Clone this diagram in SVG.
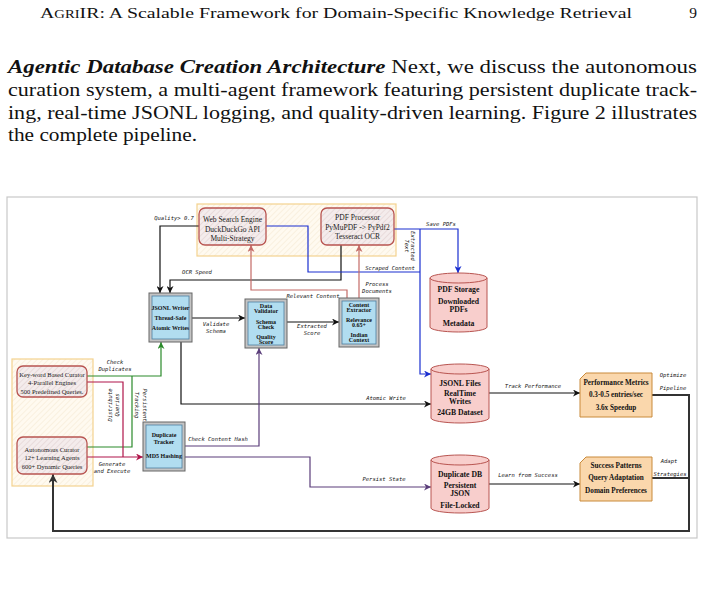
<svg xmlns="http://www.w3.org/2000/svg" width="705" height="590" viewBox="0 0 705 590">
<style>
.pg{font-family:"Liberation Serif","DejaVu Serif",serif;fill:#111}
.hb{font-family:"Liberation Serif",serif;font-size:7.5px;fill:#222;text-anchor:middle}
.cb{font-family:"Liberation Serif",serif;font-size:6.5px;fill:#222;text-anchor:middle}
.bb{font-family:"Liberation Serif",serif;font-size:6px;font-weight:bold;fill:#111;text-anchor:middle}
.cy{font-family:"Liberation Serif",serif;font-size:7.7px;font-weight:bold;fill:#111;text-anchor:middle}
.or{font-family:"Liberation Serif",serif;font-size:7.2px;font-weight:bold;fill:#111;text-anchor:middle}
.lb{font-family:"DejaVu Sans Mono",monospace;font-size:5.5px;font-style:italic;fill:#111;text-anchor:middle}
.ln{fill:none;stroke-width:1.2}
.k{stroke:#111}.bl{stroke:#1a2fd0}.rd{stroke:#c46a66}.gr{stroke:#2a8a2a}.cr{stroke:#b0154a}.pu{stroke:#5a3d7a}
.hx{stroke:#b85450;stroke-width:1.3;fill:url(#hatchR)}
.ct{stroke:#f3d28f;stroke-width:1.2;fill:url(#hatchY)}
.bo{fill:#c4c4c4;stroke:#666;stroke-width:1}
.bi{fill:#b1ddf0;stroke:#4f7fa0;stroke-width:0.8}
.cyl{fill:#f8cecc;stroke:#b85450;stroke-width:1}
.crd{fill:#fad7ac;stroke:#c98a3a;stroke-width:1}
</style>
<defs>
<pattern id="hatchR" patternUnits="userSpaceOnUse" width="4" height="4" patternTransform="rotate(45)">
<rect width="4" height="4" fill="#f4ecec"/><line x1="0" y1="0" x2="0" y2="4" stroke="#dccaca" stroke-width="1"/>
</pattern>
<pattern id="hatchY" patternUnits="userSpaceOnUse" width="4" height="4" patternTransform="rotate(45)">
<rect width="4" height="4" fill="#fffaf0"/><line x1="0" y1="0" x2="0" y2="4" stroke="#f3e6cf" stroke-width="1"/>
</pattern>
<marker id="aK" viewBox="0 0 10 10" refX="10" refY="5" markerWidth="7" markerHeight="7" orient="auto" markerUnits="userSpaceOnUse"><path d="M0,0 L10,5 L0,10 L3,5 Z" fill="#111"/></marker>
<marker id="aB" viewBox="0 0 10 10" refX="10" refY="5" markerWidth="7" markerHeight="7" orient="auto" markerUnits="userSpaceOnUse"><path d="M0,0 L10,5 L0,10 L3,5 Z" fill="#1a2fd0"/></marker>
<marker id="aR" viewBox="0 0 10 10" refX="10" refY="5" markerWidth="7" markerHeight="7" orient="auto" markerUnits="userSpaceOnUse"><path d="M0,0 L10,5 L0,10 L3,5 Z" fill="#c46a66"/></marker>
<marker id="aG" viewBox="0 0 10 10" refX="10" refY="5" markerWidth="7" markerHeight="7" orient="auto" markerUnits="userSpaceOnUse"><path d="M0,0 L10,5 L0,10 L3,5 Z" fill="#2a8a2a"/></marker>
<marker id="aC" viewBox="0 0 10 10" refX="10" refY="5" markerWidth="7" markerHeight="7" orient="auto" markerUnits="userSpaceOnUse"><path d="M0,0 L10,5 L0,10 L3,5 Z" fill="#b0154a"/></marker>
<marker id="aP" viewBox="0 0 10 10" refX="10" refY="5" markerWidth="7" markerHeight="7" orient="auto" markerUnits="userSpaceOnUse"><path d="M0,0 L10,5 L0,10 L3,5 Z" fill="#5a3d7a"/></marker>
<marker id="aD" viewBox="0 0 10 10" refX="10" refY="5" markerWidth="9" markerHeight="9" orient="auto" markerUnits="userSpaceOnUse"><path d="M0,0 L10,5 L0,10 L3,5 Z" fill="#333"/></marker>
</defs>
<rect width="705" height="590" fill="#fff"/>

<g id="page-text">
<text class="pg" x="40" y="18" font-size="15.5" textLength="592" lengthAdjust="spacingAndGlyphs">A<tspan font-size="11.5">GRI</tspan>IR: A Scalable Framework for Domain-Specific Knowledge Retrieval</text>
<text class="pg" x="697" y="18" font-size="15.5" text-anchor="end">9</text>
<text class="pg" x="8" y="73" font-size="18.5" textLength="689" lengthAdjust="spacingAndGlyphs"><tspan font-weight="bold" font-style="italic">Agentic Database Creation Architecture</tspan> Next, we discuss the autonomous</text>
<text class="pg" x="8" y="96" font-size="18.5" textLength="689" lengthAdjust="spacingAndGlyphs">curation system, a multi-agent framework featuring persistent duplicate track-</text>
<text class="pg" x="8" y="119" font-size="18.5" textLength="689" lengthAdjust="spacingAndGlyphs">ing, real-time JSONL logging, and quality-driven learning. Figure 2 illustrates</text>
<text class="pg" x="8" y="141" font-size="18.5" textLength="189" lengthAdjust="spacingAndGlyphs">the complete pipeline.</text>
</g>

<rect id="frame" x="7" y="197" width="690" height="341" fill="#fff" stroke="#c8c8c8" stroke-width="1.2"/>

<g id="containers">
<rect class="ct" x="197" y="204" width="199" height="52"/>
<rect class="ct" x="12" y="359" width="81" height="127"/>
</g>

<g id="connectors">
<path class="ln k" d="M199,226 H160 V293" marker-end="url(#aK)"/>
<path class="ln k" d="M341,245 V280 H170 V293" marker-end="url(#aK)"/>
<path class="ln bl" d="M266,226 H308 V272 H420"/>
<path class="ln bl" d="M394,229 H458 V273" marker-end="url(#aB)"/>
<path class="ln bl" d="M420,229 V374 H431" marker-end="url(#aB)"/>
<path class="ln rd" d="M347,298 V290 H251 V245" marker-end="url(#aR)"/>
<path class="ln rd" d="M359,298 V245" marker-end="url(#aR)"/>
<path class="ln k" d="M192,318 H245" marker-end="url(#aK)"/>
<path class="ln k" d="M287,322 H339" marker-end="url(#aK)"/>
<path class="ln k" d="M181,342 V404 H431" marker-end="url(#aK)"/>
<path class="ln gr" d="M87,376 H161 V342" marker-end="url(#aG)"/>
<path class="ln gr" d="M87,447 H132 V376"/>
<path class="ln cr" d="M87,382 H123 V457"/>
<path class="ln cr" d="M87,457 H143" marker-end="url(#aC)"/>
<path class="ln pu" d="M185,446 H259 V348" marker-end="url(#aP)"/>
<path class="ln pu" d="M185,457 H310 V487 H431" marker-end="url(#aP)"/>
<path class="ln k" d="M489,393 H580" marker-end="url(#aK)"/>
<path class="ln k" d="M489,484 H580" marker-end="url(#aK)"/>
<path fill="none" stroke="#333" stroke-width="2" d="M652,395 H689 V531 H53 V474" marker-end="url(#aD)"/>
<path fill="none" stroke="#333" stroke-width="2" d="M652,478 H689"/>

<text class="lb" x="174" y="220">Quality&gt; 0.7</text>
<text class="lb" x="197" y="274">OCR Speed</text>
<text class="lb" x="390" y="270">Scraped Content</text>
<text class="lb" x="441" y="226">Save PDFs</text>
<text class="lb" transform="translate(413,246) rotate(90)" x="0" y="2">Extracted</text>
<text class="lb" transform="translate(407,246) rotate(90)" x="0" y="2">Text</text>
<text class="lb" x="313" y="298">Relevant Content</text>
<text class="lb" x="377" y="286">Process</text>
<text class="lb" x="377" y="293">Documents</text>
<text class="lb" x="216" y="326">Validate</text>
<text class="lb" x="216" y="333">Schema</text>
<text class="lb" x="312" y="328">Extracted</text>
<text class="lb" x="312" y="335">Score</text>
<text class="lb" x="386" y="400">Atomic Write</text>
<text class="lb" x="115" y="364">Check</text>
<text class="lb" x="115" y="371">Duplicates</text>
<text class="lb" transform="translate(110,405) rotate(-90)" x="0" y="2">Distribute</text>
<text class="lb" transform="translate(117,405) rotate(-90)" x="0" y="2">Queries</text>
<text class="lb" transform="translate(145,405) rotate(90)" x="0" y="2">Persistent</text>
<text class="lb" transform="translate(137,405) rotate(90)" x="0" y="2">Tracking</text>
<text class="lb" x="112" y="466">Generate</text>
<text class="lb" x="112" y="473">and Execute</text>
<text class="lb" x="218" y="441">Check Content Hash</text>
<text class="lb" x="384" y="481">Persist State</text>
<text class="lb" x="533" y="388">Track Performance</text>
<text class="lb" x="528" y="477">Learn from Success</text>
<text class="lb" x="673" y="377">Optimize</text>
<text class="lb" x="673" y="390">Pipeline</text>
<text class="lb" x="669" y="463">Adapt</text>
<text class="lb" x="670" y="476">Strategies</text>
</g>

<g id="web-search">
<rect class="hx" x="199" y="208" width="67" height="37" rx="6"/>
<text class="hb" x="232.5" y="222">Web Search Engine</text>
<text class="hb" x="232.5" y="231.5">DuckDuckGo API</text>
<text class="hb" x="232.5" y="241">Multi-Strategy</text>
</g>
<g id="pdf-processor">
<rect class="hx" x="321" y="208" width="73" height="37" rx="6"/>
<text class="hb" x="357.5" y="220">PDF Processor</text>
<text class="hb" x="357.5" y="229.5">PyMuPDF -&gt; PyPdf2</text>
<text class="hb" x="357.5" y="239">Tesseract OCR</text>
</g>
<g id="keyword-curator">
<rect class="hx" x="17" y="366" width="70" height="31" rx="6"/>
<text class="cb" x="52" y="376.5">Key-word Based Curator</text>
<text class="cb" x="52" y="385">4-Parallel Engines</text>
<text class="cb" x="52" y="393.5">500 Predefined Queries.</text>
</g>
<g id="autonomous-curator">
<rect class="hx" x="17" y="437" width="70" height="37" rx="6"/>
<text class="cb" x="52" y="451.5">Autonomous Curator</text>
<text class="cb" x="52" y="460">12+ Learning Agents</text>
<text class="cb" x="52" y="468.5">600+ Dynamic Queries</text>
</g>

<g id="jsonl-writer">
<rect class="bo" x="149" y="293" width="43" height="49"/>
<rect class="bi" x="152" y="296" width="37" height="43"/>
<text class="bb" x="170.5" y="310">JSONL Writer</text>
<text class="bb" x="170.5" y="320">Thread-Safe</text>
<text class="bb" x="170.5" y="330">Atomic Writes</text>
</g>
<g id="data-validator">
<rect class="bo" x="245" y="299" width="42" height="49"/>
<rect class="bi" x="248" y="302" width="36" height="43"/>
<text class="bb" x="266" y="308">Data</text>
<text class="bb" x="266" y="313">Validator</text>
<text class="bb" x="266" y="324">Schema</text>
<text class="bb" x="266" y="329">Check</text>
<text class="bb" x="266" y="339">Quality</text>
<text class="bb" x="266" y="344">Score</text>
</g>
<g id="content-extractor">
<rect class="bo" x="339" y="298" width="40" height="49"/>
<rect class="bi" x="342" y="301" width="34" height="43"/>
<text class="bb" x="359" y="307">Content</text>
<text class="bb" x="359" y="312">Extractor</text>
<text class="bb" x="359" y="322">Relevance</text>
<text class="bb" x="359" y="327">0.65+</text>
<text class="bb" x="359" y="337">Indian</text>
<text class="bb" x="359" y="342">Context</text>
</g>
<g id="duplicate-tracker">
<rect class="bo" x="143" y="422" width="42" height="49"/>
<rect class="bi" x="146" y="425" width="36" height="43"/>
<text class="bb" x="164" y="437">Duplicate</text>
<text class="bb" x="164" y="444">Tracker</text>
<text class="bb" x="164" y="458">MD5 Hashing</text>
</g>

<g id="pdf-storage">
<path class="cyl" d="M430,278 a28.5,5 0 0 1 57,0 V327 a28.5,5 0 0 1 -57,0 Z"/>
<path fill="none" stroke="#b85450" stroke-width="1" d="M430,278 a28.5,5 0 0 0 57,0"/>
<text class="cy" x="458.5" y="291.5">PDF Storage</text>
<text class="cy" x="458.5" y="303.5">Downloaded</text>
<text class="cy" x="458.5" y="311.5">PDFs</text>
<text class="cy" x="458.5" y="325.5">Metadata</text>
</g>
<g id="jsonl-files">
<path class="cyl" d="M431,369 a29,5 0 0 1 58,0 V418 a29,5 0 0 1 -58,0 Z"/>
<path fill="none" stroke="#b85450" stroke-width="1" d="M431,369 a29,5 0 0 0 58,0"/>
<text class="cy" x="460" y="385.5">JSONL Files</text>
<text class="cy" x="460" y="395.5">RealTime</text>
<text class="cy" x="460" y="403.5">Writes</text>
<text class="cy" x="460" y="414.5">24GB Dataset</text>
</g>
<g id="duplicate-db">
<path class="cyl" d="M431,460 a29,5 0 0 1 58,0 V508 a29,5 0 0 1 -58,0 Z"/>
<path fill="none" stroke="#b85450" stroke-width="1" d="M431,460 a29,5 0 0 0 58,0"/>
<text class="cy" x="460" y="476.5">Duplicate DB</text>
<text class="cy" x="460" y="487.5">Persistent</text>
<text class="cy" x="460" y="495.5">JSON</text>
<text class="cy" x="460" y="507.5">File-Locked</text>
</g>

<g id="performance-metrics">
<path class="crd" d="M586,373 H652 V417 H580 V379 Z"/>
<text class="or" x="616" y="384.5">Performance Metrics</text>
<text class="or" x="616" y="396.5">0.3-0.5 entries/sec</text>
<text class="or" x="616" y="409.5">3.6x Speedup</text>
</g>
<g id="success-patterns">
<path class="crd" d="M586,457 H652 V501 H580 V463 Z"/>
<text class="or" x="616" y="467.5">Success Patterns</text>
<text class="or" x="616" y="479.5">Query Adaptation</text>
<text class="or" x="616" y="492.5">Domain Preferences</text>
</g>
</svg>
